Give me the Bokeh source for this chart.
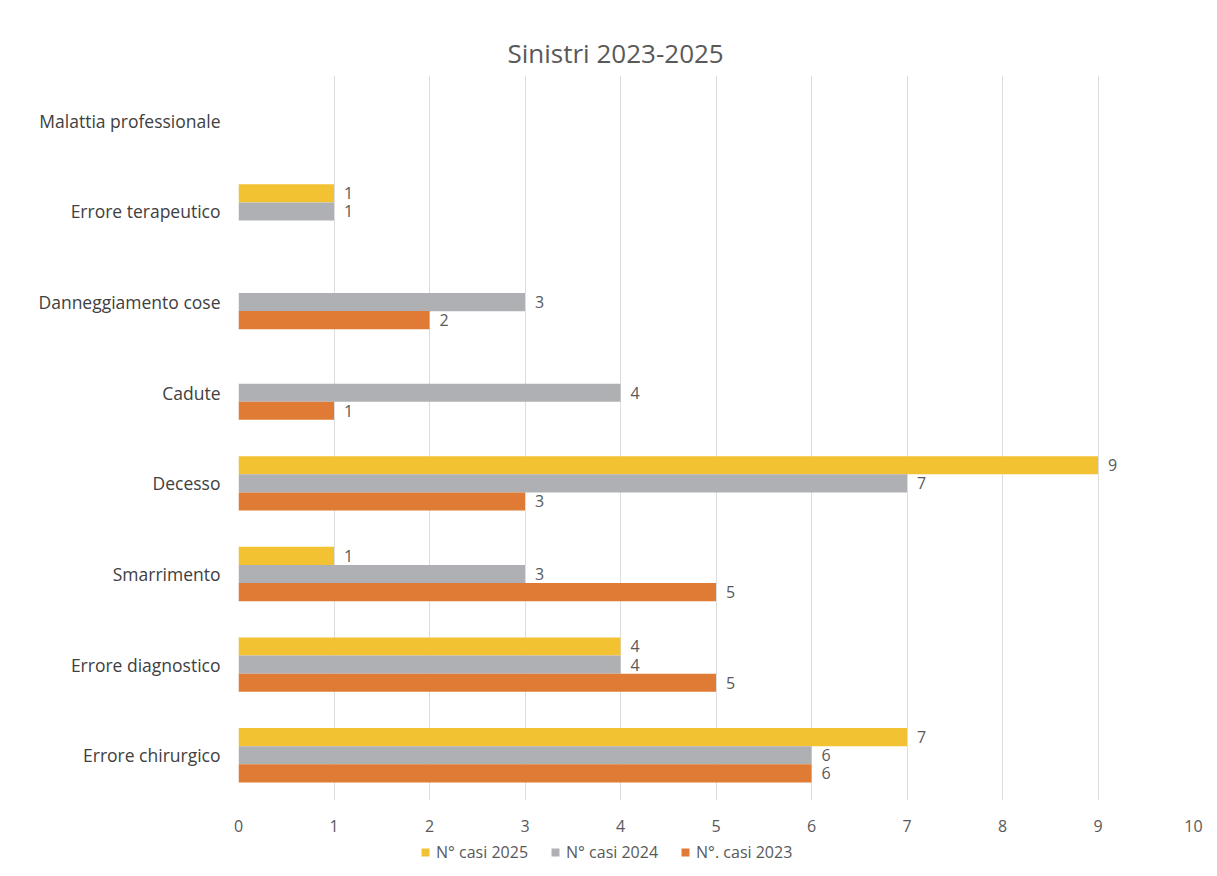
from bokeh.plotting import figure
from bokeh.layouts import column
from bokeh.models import ColumnDataSource, FactorRange, Legend, LegendItem, Range1d, FixedTicker
from bokeh.transform import dodge
from bokeh.embed import file_html
from bokeh.resources import INLINE

categories = ["Errore chirurgico", "Errore diagnostico", "Smarrimento", "Decesso",
              "Cadute", "Danneggiamento cose", "Errore terapeutico", "Malattia professionale"]
casi_2025 = [7, 4, 1, 9, 0, 0, 1, 0]
casi_2024 = [6, 4, 3, 7, 4, 3, 1, 0]
casi_2023 = [6, 5, 5, 3, 1, 2, 0, 0]
x_ticks = list(range(0, 11))
series_labels = ["N° casi 2025", "N° casi 2024", "N°. casi 2023"]
series_colors = ["#F2C232", "#AEB0B3", "#E07B35"]
title_text = "Sinistri 2023-2025"

FONT = "Open Sans"

p = figure(frame_width=955, frame_height=725, output_backend="svg", toolbar_location=None,
           y_range=FactorRange(*categories), x_range=Range1d(0, 10),
           min_border_left=238, min_border_right=24, min_border_top=75, min_border_bottom=40)
p.title.text = title_text
p.title.align = "left"
p.title.offset = 269
p.title.text_font = FONT
p.title.text_font_size = "26px"
p.title.text_font_style = "normal"
p.title.text_color = "#595959"
p.title.standoff = 10

p.outline_line_color = None
p.ygrid.grid_line_color = None
p.xgrid.grid_line_color = "#DDDDDD"
p.xaxis.ticker = FixedTicker(ticks=x_ticks)
p.xaxis.axis_line_color = None
p.xaxis.major_tick_line_color = None
p.xaxis.minor_tick_line_color = None
p.xaxis.major_tick_out = 0
p.xaxis.major_tick_in = 0
p.xaxis.minor_tick_out = 0
p.xaxis.major_label_text_font = FONT
p.xaxis.major_label_text_font_size = "16px"
p.xaxis.major_label_text_color = "#595959"
p.xaxis.major_label_standoff = 19
p.yaxis.axis_line_color = None
p.yaxis.major_tick_line_color = None
p.yaxis.major_tick_out = 0
p.yaxis.major_tick_in = 0
p.yaxis.major_label_text_font = FONT
p.yaxis.major_label_text_font_size = "17.5px"
p.yaxis.major_label_text_color = "#404040"
p.yaxis.major_label_standoff = 18

series_values = [casi_2025, casi_2024, casi_2023]
offsets = [0.2, 0.0, -0.2]
for vals, col, off in zip(series_values, series_colors, offsets):
    src = ColumnDataSource(dict(cat=categories, v=vals))
    p.hbar(y=dodge("cat", off, range=p.y_range), left=0, right="v", height=0.2,
           source=src, fill_color=col, line_color=None)
    nz = [(c, v) for c, v in zip(categories, vals) if v > 0]
    lsrc = ColumnDataSource(dict(cat=[c for c, _ in nz], v=[v for _, v in nz],
                                 t=[str(v) for _, v in nz]))
    p.text(x="v", y=dodge("cat", off, range=p.y_range), text="t", source=lsrc,
           x_offset=10, text_baseline="middle", text_align="left",
           text_font_size="16px", text_color="#595959", text_font={"value": FONT})

# legend strip below the chart (zero-size swatch glyphs, only used by the legend)
lf = figure(width=1217, height=36, output_backend="svg", toolbar_location=None,
            x_axis_type=None, y_axis_type=None, x_range=Range1d(0, 1), y_range=Range1d(0, 1),
            min_border=0)
lf.outline_line_color = None
lf.xgrid.visible = False
lf.ygrid.visible = False
items = []
for col, lab in zip(series_colors, series_labels):
    r = lf.hbar(y=[0.5], right=[0], left=[0], height=0, fill_color=col, line_color=None)
    items.append(LegendItem(label=lab, renderers=[r]))
legend = Legend(items=items, orientation="horizontal", location=(182, 13),
                label_text_font=FONT, label_text_font_size="16px", label_text_color="#595959",
                glyph_width=10, glyph_height=10, spacing=22, padding=0, margin=0,
                label_standoff=6, background_fill_alpha=0, border_line_color=None)
lf.add_layout(legend)

layout = column(p, lf, spacing=0)
open("out.html", "w").write(file_html(layout, INLINE))
